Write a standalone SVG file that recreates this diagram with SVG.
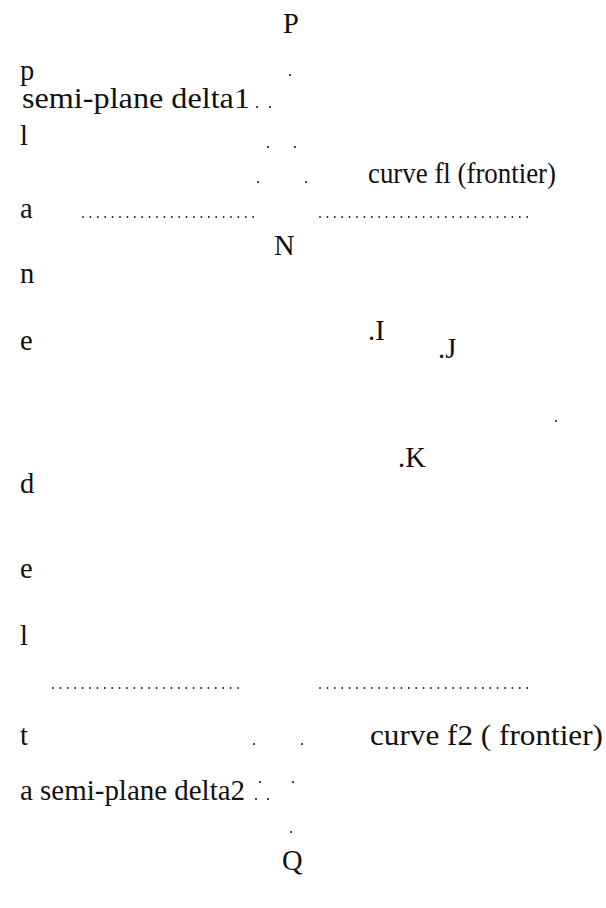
<svg xmlns="http://www.w3.org/2000/svg" width="606" height="908" viewBox="0 0 606 908">
<style>
text{font-family:"Liberation Serif","Times New Roman",serif;font-size:28.5px;fill:#111}
.d{fill:#222}
.dl{stroke:#222;stroke-width:1.9;stroke-linecap:round;stroke-dasharray:0 7.4;fill:none}
</style>
<rect width="606" height="908" fill="#fff"/>
<g id="vertical-label">
<text x="20" y="80">p</text>
<text x="20" y="145">l</text>
<text x="20" y="218">a</text>
<text x="20" y="283">n</text>
<text x="20" y="350">e</text>
<text x="20" y="493">d</text>
<text x="20" y="578">e</text>
<text x="20" y="645">l</text>
<text x="20" y="745">t</text>
</g>
<g id="point-P"><text x="283" y="33">P</text></g>
<g id="semi-plane-delta1"><text x="22" y="108" textLength="228" lengthAdjust="spacingAndGlyphs">semi-plane delta1</text></g>
<g id="curve-f1-label"><text x="368" y="183" textLength="188" lengthAdjust="spacingAndGlyphs">curve fl (frontier)</text></g>
<g id="point-N"><text x="274" y="255">N</text></g>
<g id="point-I"><text x="368" y="340">.I</text></g>
<g id="point-J"><text x="438" y="358">.J</text></g>
<g id="point-K"><text x="398" y="467">.K</text></g>
<g id="curve-f2-label"><text x="370" y="745" textLength="233" lengthAdjust="spacingAndGlyphs">curve f2 ( frontier)</text></g>
<g id="semi-plane-delta2"><text x="20" y="800" textLength="225" lengthAdjust="spacingAndGlyphs">a semi-plane delta2</text></g>
<g id="point-Q"><text x="282" y="870">Q</text></g>
<g id="dots">
<circle class="d" cx="290" cy="75" r="1.1"/>
<circle class="d" cx="257" cy="107" r="1.1"/>
<circle class="d" cx="270" cy="107" r="1.1"/>
<circle class="d" cx="268" cy="147" r="1.1"/>
<circle class="d" cx="295" cy="147" r="1.1"/>
<circle class="d" cx="258" cy="182" r="1.1"/>
<circle class="d" cx="306" cy="182" r="1.1"/>
<circle class="d" cx="556" cy="421" r="1.1"/>
<circle class="d" cx="254" cy="744" r="1.1"/>
<circle class="d" cx="302" cy="744" r="1.1"/>
<circle class="d" cx="260" cy="782" r="1.1"/>
<circle class="d" cx="293" cy="782" r="1.1"/>
<circle class="d" cx="256" cy="799" r="1.1"/>
<circle class="d" cx="268" cy="799" r="1.1"/>
<circle class="d" cx="291" cy="832" r="1.1"/>
</g>
<g id="connectors">
<line class="dl" x1="83" y1="217" x2="256" y2="217"/>
<line class="dl" x1="320" y1="217" x2="532" y2="217"/>
<line class="dl" x1="53" y1="688" x2="245" y2="688"/>
<line class="dl" x1="320" y1="688" x2="530" y2="688"/>
</g>
</svg>
